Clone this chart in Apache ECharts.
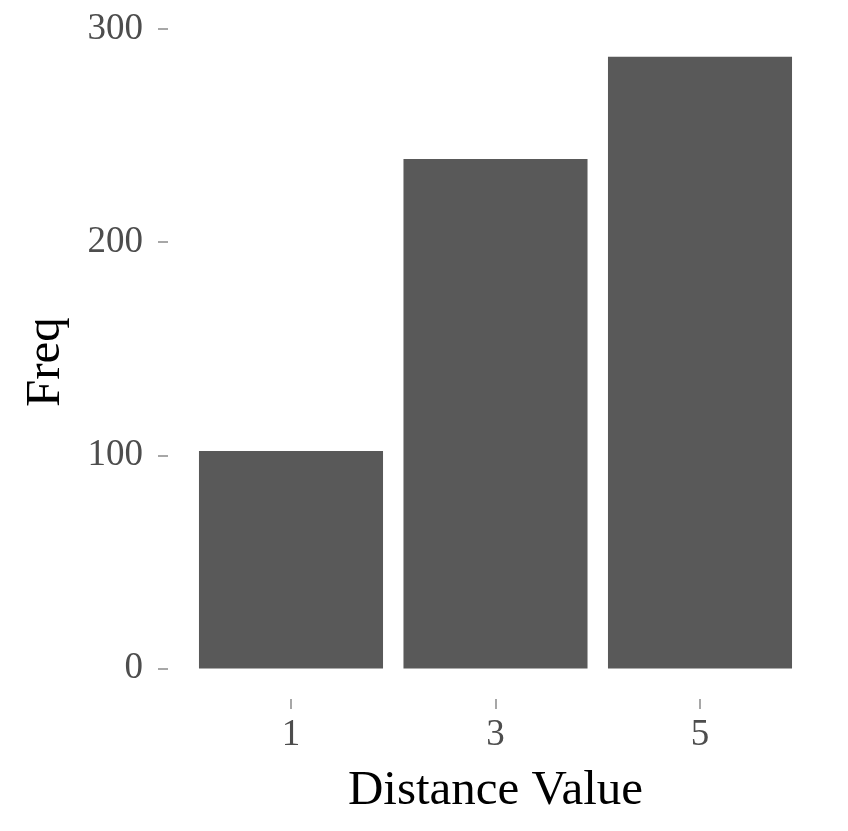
<!DOCTYPE html>
<html>
<head>
<meta charset="utf-8">
<script src="https://cdn.jsdelivr.net/npm/echarts@6/dist/echarts.min.js"></script>
<style>
  html, body { margin: 0; padding: 0; background: #fff; }
  #chart { width: 848px; height: 831px; }
</style>
</head>
<body>
<div id="chart"></div>
<script>
// data
var categories = ['1', '3', '5']
var freq = [102, 239, 287]
var yTicks = [0, 100, 200, 300]

var chart = echarts.init(document.getElementById('chart'))
var serif = 'Liberation Serif'

chart.setOption({
  animation: false,
  grid: { // panel area, ggplot style expanded
    left: 188.75,
    right: 45.75,
    top: 25.4,
    bottom: 132
  },
  xAxis: {
    type: 'category',
    data: categories,
    name: 'Distance Value',
    nameLocation: 'middle',
    nameGap: 68,
    nameTextStyle: { fontFamily: serif, fontSize: 49, color: '#000' },
    axisLine: { show: false, onZero: false },
    axisTick: { show: true, alignWithLabel: true, length: 10, lineStyle: { color: '#8a8a8a', width: 1.5 } },
    axisLabel: { fontFamily: serif, fontSize: 37, color: '#4d4d4d', margin: 18 },
    splitLine: { show: false }
  },
  yAxis: {
    type: 'value',
    min: -14.36,
    max: 301.7,
    offset: 20.75,
    name: 'Freq',
    nameLocation: 'middle',
    nameGap: 97,
    nameTextStyle: { fontFamily: serif, fontSize: 49, color: '#000' },
    axisLine: { show: false },
    axisTick: { show: true, customValues: yTicks, length: 10, lineStyle: { color: '#8a8a8a', width: 1.5 } },
    axisLabel: { customValues: yTicks, fontFamily: serif, fontSize: 37, color: '#4d4d4d', margin: 25 },
    splitLine: { show: false }
  },
  series: [
    {
      type: 'bar',
      data: freq,
      barCategoryGap: '10%',
      itemStyle: { color: '#595959' }
    }
  ]
})
</script>
</body>
</html>
